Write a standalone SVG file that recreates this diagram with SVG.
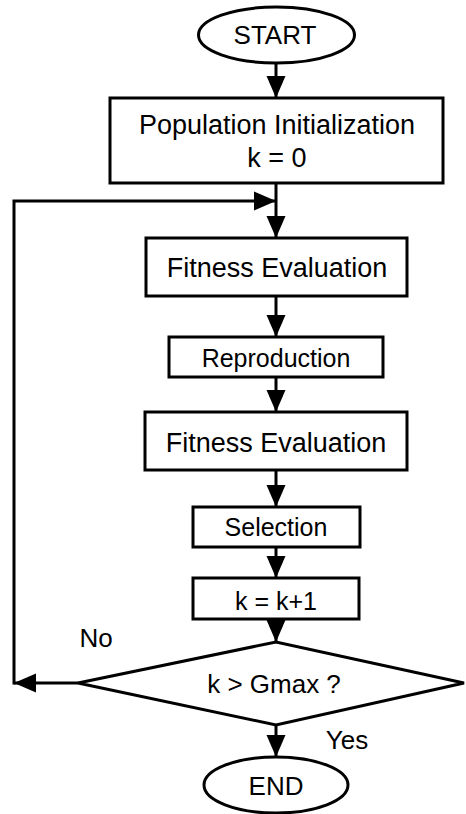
<svg xmlns="http://www.w3.org/2000/svg" width="466" height="814" viewBox="0 0 466 814">
<defs>
<style>
.s{fill:#fff;stroke:#000;stroke-width:3}
.c{fill:none;stroke:#000;stroke-width:3}
text{font-family:"Liberation Sans",Arial,sans-serif;fill:#000;text-anchor:middle}
.l{font-size:27px}
.m{font-size:25px}
.n{font-size:26px}
</style>
<marker id="ah" markerUnits="userSpaceOnUse" markerWidth="22" markerHeight="20" refX="22" refY="10" orient="auto">
<path d="M0,0.5 L22,10 L0,19.5 Z" fill="#000"/>
</marker>
</defs>
<g id="connectors">
<path class="c" d="M276,63 L276,98" marker-end="url(#ah)"/>
<path class="c" d="M276,183 L276,238" marker-end="url(#ah)"/>
<path class="c" d="M276,296 L276,337" marker-end="url(#ah)"/>
<path class="c" d="M276,377 L276,412" marker-end="url(#ah)"/>
<path class="c" d="M276,470 L276,507" marker-end="url(#ah)"/>
<path class="c" d="M276,547 L276,578" marker-end="url(#ah)"/>
<path class="c" d="M276,619 L276,642" marker-end="url(#ah)"/>
<path class="c" d="M276,725 L276,757" marker-end="url(#ah)"/>
<path class="c" d="M78,683 L14,683" marker-end="url(#ah)"/>
<path class="c" d="M14,684.5 L14,201 L276,201" marker-end="url(#ah)"/>
<text class="n" x="96" y="647">No</text>
<text class="n" x="347" y="749">Yes</text>
</g>
<g id="start">
<ellipse class="s" cx="276.5" cy="35" rx="78" ry="28"/>
<text class="n" x="275" y="44">START</text>
</g>
<g id="init">
<rect class="s" x="110" y="98" width="333" height="85"/>
<text class="l" x="277" y="134">Population Initialization</text>
<text class="l" x="277" y="167">k = 0</text>
</g>
<g id="fitness1">
<rect class="s" x="146" y="238" width="261" height="58"/>
<text class="l" x="277" y="277">Fitness Evaluation</text>
</g>
<g id="reproduction">
<rect class="s" x="169" y="337" width="214" height="40"/>
<text class="m" x="276" y="367">Reproduction</text>
</g>
<g id="fitness2">
<rect class="s" x="145" y="412" width="262" height="58"/>
<text class="l" x="276" y="452">Fitness Evaluation</text>
</g>
<g id="selection">
<rect class="s" x="193" y="507" width="167" height="40"/>
<text class="m" x="276" y="536">Selection</text>
</g>
<g id="increment">
<rect class="s" x="193" y="578" width="166" height="41"/>
<text class="m" x="276" y="610">k = k+1</text>
</g>
<g id="decision">
<polygon class="s" points="78,683 276,642 464,683 276,725"/>
<text class="n" x="274" y="693">k &gt; Gmax ?</text>
</g>
<g id="end">
<ellipse class="s" cx="276" cy="785" rx="72" ry="28"/>
<text class="n" x="276" y="795">END</text>
</g>
</svg>
